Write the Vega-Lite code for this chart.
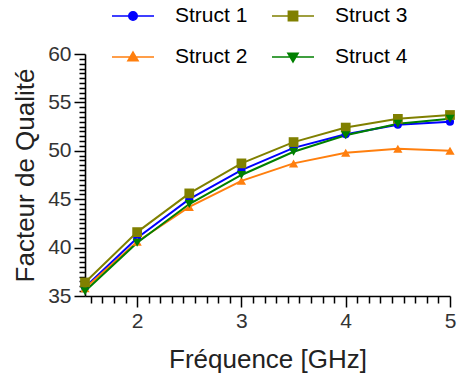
{
  "$schema": "https://vega.github.io/schema/vega-lite/v6.json",
  "autosize": {"type": "none"},
  "width": 365,
  "height": 242,
  "padding": {"left": 85, "top": 54, "right": 9, "bottom": 83},
  "background": "white",
  "config": {
    "view": {"stroke": null},
    "font": "Liberation Sans",
    "axis": {
      "domainColor": "black",
      "domainWidth": 1.6,
      "tickColor": "black",
      "tickWidth": 1.5,
      "labelFont": "Liberation Sans",
      "labelFontSize": 21,
      "labelColor": "#333",
      "titleFont": "Liberation Sans",
      "titleFontSize": 26,
      "titleFontWeight": "normal",
      "titleColor": "#222",
      "grid": false,
      "labelOverlap": false
    }
  },
  "data": {
    "values": [
      {"f": 1.5, "s": "Struct 1", "q": 35.9}, {"f": 2, "s": "Struct 1", "q": 41.0}, {"f": 2.5, "s": "Struct 1", "q": 45.0}, {"f": 3, "s": "Struct 1", "q": 48.0},
      {"f": 3.5, "s": "Struct 1", "q": 50.3}, {"f": 4, "s": "Struct 1", "q": 51.7}, {"f": 4.5, "s": "Struct 1", "q": 52.7}, {"f": 5, "s": "Struct 1", "q": 53.0},
      {"f": 1.5, "s": "Struct 2", "q": 35.8}, {"f": 2, "s": "Struct 2", "q": 40.6}, {"f": 2.5, "s": "Struct 2", "q": 44.2}, {"f": 3, "s": "Struct 2", "q": 46.9},
      {"f": 3.5, "s": "Struct 2", "q": 48.7}, {"f": 4, "s": "Struct 2", "q": 49.8}, {"f": 4.5, "s": "Struct 2", "q": 50.2}, {"f": 5, "s": "Struct 2", "q": 50.0},
      {"f": 1.5, "s": "Struct 3", "q": 36.4}, {"f": 2, "s": "Struct 3", "q": 41.6}, {"f": 2.5, "s": "Struct 3", "q": 45.6}, {"f": 3, "s": "Struct 3", "q": 48.7},
      {"f": 3.5, "s": "Struct 3", "q": 50.9}, {"f": 4, "s": "Struct 3", "q": 52.4}, {"f": 4.5, "s": "Struct 3", "q": 53.3}, {"f": 5, "s": "Struct 3", "q": 53.7},
      {"f": 1.5, "s": "Struct 4", "q": 35.5}, {"f": 2, "s": "Struct 4", "q": 40.5}, {"f": 2.5, "s": "Struct 4", "q": 44.5}, {"f": 3, "s": "Struct 4", "q": 47.5},
      {"f": 3.5, "s": "Struct 4", "q": 49.9}, {"f": 4, "s": "Struct 4", "q": 51.6}, {"f": 4.5, "s": "Struct 4", "q": 52.8}, {"f": 5, "s": "Struct 4", "q": 53.3}
    ]
  },
  "encoding": {
    "x": {
      "field": "f", "type": "quantitative",
      "scale": {"domain": [1.5, 5], "nice": false, "zero": false},
      "axis": {
        "title": "Fréquence [GHz]",
        "values": [1.5556, 1.6667, 1.7778, 1.8889, 2, 2.1111, 2.2222, 2.3333, 2.4444, 2.5556, 2.6667, 2.7778, 2.8889, 3, 3.1111, 3.2222, 3.3333, 3.4444, 3.5556, 3.6667, 3.7778, 3.8889, 4, 4.1111, 4.2222, 4.3333, 4.4444, 4.5556, 4.6667, 4.7778, 4.8889, 5],
        "labelExpr": "abs(datum.value - round(datum.value)) < 0.001 ? format(datum.value, 'd') : ''",
        "tickSize": {"condition": {"test": "abs(datum.value - round(datum.value)) < 0.001", "value": 11}, "value": 7},
        "labelPadding": 3,
        "titlePadding": 15,
        "labelFlush": false
      }
    },
    "y": {
      "field": "q", "type": "quantitative",
      "scale": {"domain": [35, 60], "nice": false, "zero": false},
      "axis": {
        "title": "Facteur de Qualité",
        "values": [35, 35.5, 36, 36.5, 37, 37.5, 38, 38.5, 39, 39.5, 40, 40.5, 41, 41.5, 42, 42.5, 43, 43.5, 44, 44.5, 45, 45.5, 46, 46.5, 47, 47.5, 48, 48.5, 49, 49.5, 50, 50.5, 51, 51.5, 52, 52.5, 53, 53.5, 54, 54.5, 55, 55.5, 56, 56.5, 57, 57.5, 58, 58.5, 59, 59.5, 60],
        "labelExpr": "datum.value % 5 === 0 ? format(datum.value, 'd') : ''",
        "tickSize": {"condition": {"test": "datum.value % 5 === 0", "value": 11}, "value": 6},
        "labelPadding": 3,
        "titlePadding": 9,
        "labelFlush": false
      }
    }
  },
  "layer": [
    {
      "mark": {"type": "line", "strokeWidth": 2},
      "encoding": {
        "color": {"field": "s", "type": "nominal", "legend": null,
          "scale": {"domain": ["Struct 1", "Struct 2", "Struct 3", "Struct 4"], "range": ["#0000ff", "#ff7f0e", "#808000", "#008000"]}}
      }
    },
    {
      "transform": [{"filter": "datum.s === 'Struct 1'"}],
      "mark": {"type": "point", "filled": true, "opacity": 1, "shape": "circle", "size": 65, "color": "#0000ff"}
    },
    {
      "transform": [{"filter": "datum.s === 'Struct 2'"}],
      "mark": {"type": "point", "filled": true, "opacity": 1, "shape": "triangle-up", "size": 85, "color": "#ff7f0e"}
    },
    {
      "transform": [{"filter": "datum.s === 'Struct 3'"}],
      "mark": {"type": "point", "filled": true, "opacity": 1, "shape": "square", "size": 95, "color": "#808000"}
    },
    {
      "transform": [{"filter": "datum.s === 'Struct 4'"}],
      "mark": {"type": "point", "filled": true, "opacity": 1, "shape": "triangle-down", "size": 85, "color": "#008000"}
    },
    {
      "mark": {"type": "point", "opacity": 0, "strokeWidth": 1.6},
      "encoding": {
        "fill": {"field": "s", "type": "nominal", "title": null,
          "scale": {"domain": ["Struct 1", "Struct 3", "Struct 2", "Struct 4"], "range": ["#0000ff", "#808000", "#ff7f0e", "#008000"]}},
        "stroke": {"field": "s", "type": "nominal", "title": null,
          "scale": {"domain": ["Struct 1", "Struct 3", "Struct 2", "Struct 4"], "range": ["#0000ff", "#808000", "#ff7f0e", "#008000"]}},
        "shape": {"field": "s", "type": "nominal", "title": null,
          "scale": {"domain": ["Struct 1", "Struct 3", "Struct 2", "Struct 4"], "range": [
            "M-1,0L1,0M-0.2,0A0.2,0.2,0,1,1,0.2,0A0.2,0.2,0,1,1,-0.2,0Z",
            "M-1,0L1,0M-0.22,-0.22L0.22,-0.22L0.22,0.22L-0.22,0.22Z",
            "M-1,0L1,0M0,-0.23L0.24,0.18L-0.24,0.18Z",
            "M-1,0L1,0M0,0.23L0.24,-0.18L-0.24,-0.18Z"
          ]},
          "legend": {
            "orient": "none", "legendX": 26, "legendY": -60, "direction": "horizontal", "columns": 2,
            "symbolSize": 1764, "symbolOpacity": 1, "symbolStrokeWidth": 1.6,
            "labelFont": "Liberation Sans", "labelFontSize": 21, "labelColor": "black", "labelOffset": 20,
            "columnPadding": 20, "rowPadding": 9, "padding": 0
          }
        }
      }
    }
  ]
}
